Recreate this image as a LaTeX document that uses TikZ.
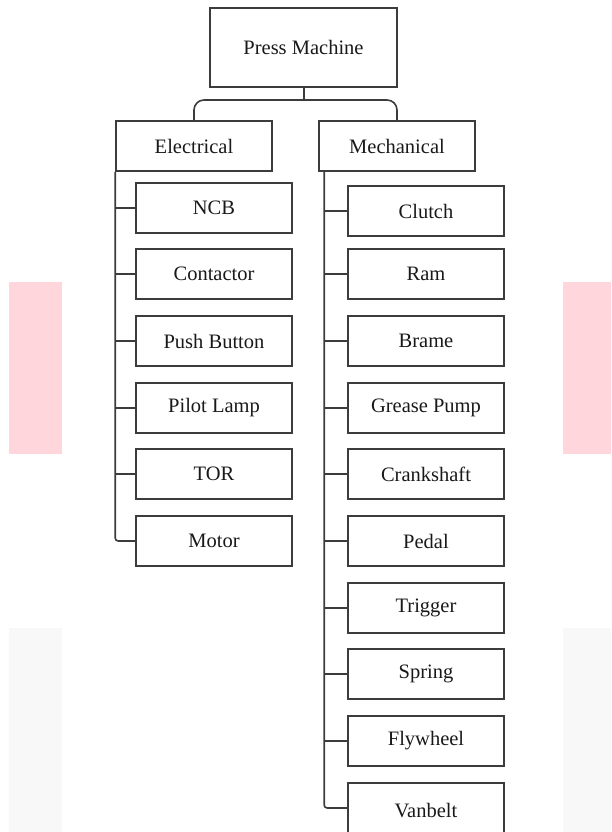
\documentclass[tikz,border=0pt]{standalone}
\usepackage{fontspec}
\setmainfont{Liberation Serif}
\definecolor{linec}{HTML}{3C3C3C}
\definecolor{pinkbg}{HTML}{FFD6DC}
\definecolor{greybg}{HTML}{F8F8F8}
\tikzset{
  box/.style={draw=linec, line width=1.6pt, fill=white, minimum width=156pt, minimum height=50pt, inner sep=0pt, font=\fontsize{20.5}{24}\selectfont, text=black!90},
  conn/.style={draw=linec, line width=1.6pt}
}
\begin{document}
\begin{tikzpicture}[x=1pt,y=-1pt]
\useasboundingbox (0,0) rectangle (611,832);
\clip (0,0) rectangle (611,832);
% background decorations
\fill[pinkbg] (9,282) rectangle (62,454);
\fill[pinkbg] (563,282) rectangle (611,454);
\fill[greybg] (9,628) rectangle (62,832);
\fill[greybg] (563,628) rectangle (611,832);
% nodes
\node[box, minimum width=187pt, minimum height=79pt] (pm) at (303.5,47.5) {Press Machine};
\node[box] (elec) at (194,146) {Electrical};
\node[box] (mech) at (397,146) {Mechanical};
\node[box] (ncb) at (214,208) {NCB};
\node[box] (cont) at (214,274) {Contactor};
\node[box] (push) at (214,341) {Push Button};
\node[box] (pilot) at (214,408) {Pilot Lamp};
\node[box] (tor) at (214,474) {TOR};
\node[box] (motor) at (214,541) {Motor};
\node[box] (clutch) at (426,211) {Clutch};
\node[box] (ram) at (426,274) {Ram};
\node[box] (brame) at (426,341) {Brame};
\node[box] (grease) at (426,408) {Grease Pump};
\node[box] (crank) at (426,474) {Crankshaft};
\node[box] (pedal) at (426,541) {Pedal};
\node[box] (trigger) at (426,608) {Trigger};
\node[box] (spring) at (426,674) {Spring};
\node[box] (fly) at (426,741) {Flywheel};
\node[box, minimum height=55pt] (van) at (426,810.5) {Vanbelt};
% top connectors
\coordinate (bar) at (0,100);
\draw[conn] ([xshift=0.5pt]pm.south) -- ([xshift=0.5pt]pm.south |- bar);
\draw[conn, rounded corners=10pt] (elec.north) -- (elec.north |- bar) -- (mech.north |- bar) -- (mech.north);
% electrical branch
\draw[conn, rounded corners=3pt] (elec.south west) |- (motor.west);
\foreach \n in {ncb,cont,push,pilot,tor}
  \draw[conn] (\n.west -| elec.south west) -- (\n.west);
% mechanical branch
\coordinate (mv) at ([xshift=6pt]mech.south west);
\draw[conn, rounded corners=3pt] (mv) |- ([yshift=2.5pt]van.west);
\foreach \n in {clutch,ram,brame,grease,crank,pedal,trigger,spring,fly}
  \draw[conn] (\n.west -| mv) -- (\n.west);
\end{tikzpicture}
\end{document}
